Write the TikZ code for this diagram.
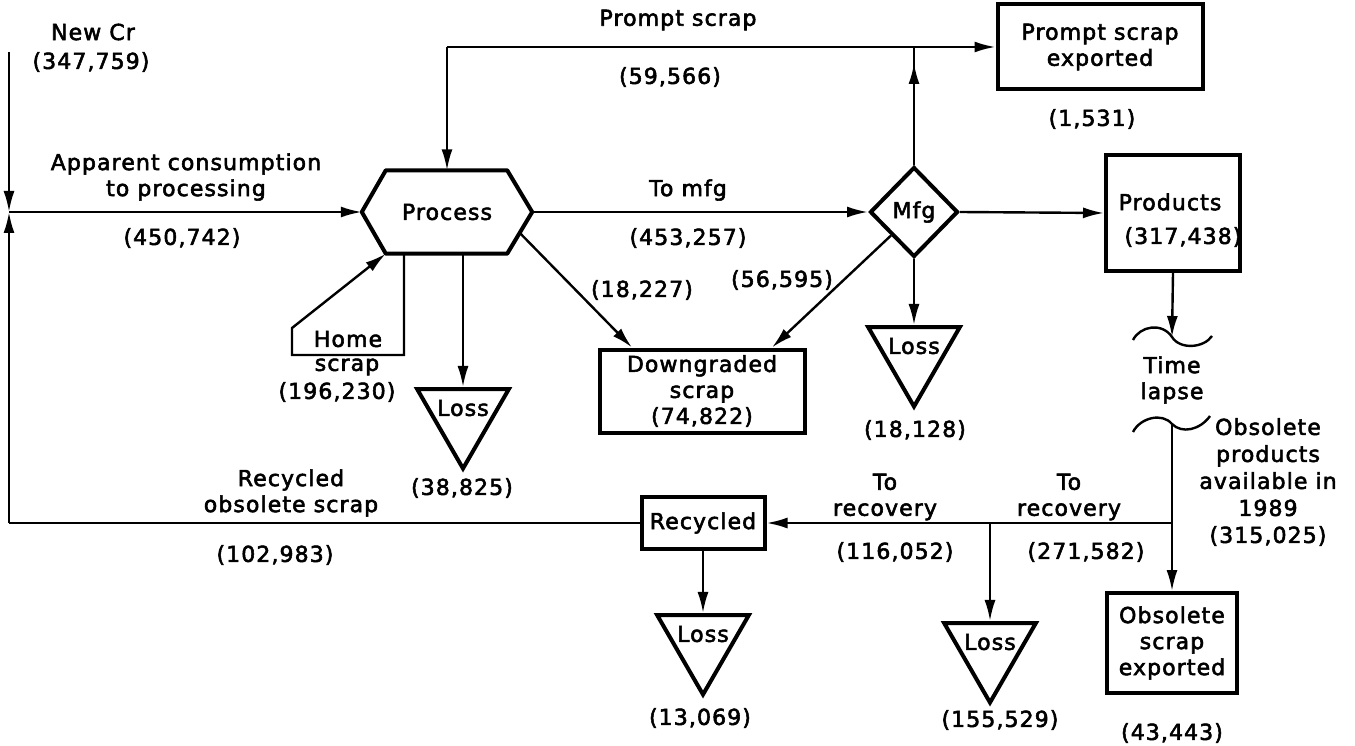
\documentclass[tikz,border=0pt]{standalone}
\usepackage{fontspec}
\setmainfont{DejaVu Sans}[LetterSpace=5,FakeBold=2.5]
\usetikzlibrary{shapes.geometric,arrows.meta,calc}
\begin{document}
\begin{tikzpicture}[x=1pt,y=-1pt,
  every node/.style={font=\fontsize{22}{26}\selectfont, inner sep=0pt, align=center},
  flow/.style={line width=2.4pt},
  arr/.style={flow,-{Latex[length=21pt,width=11pt]}},
  frame/.style={draw, rectangle, line width=4pt, inner sep=0pt},
  hexbox/.style={rectangle, minimum width=170pt, minimum height=83pt},
  mfgnode/.style={draw, diamond, line width=4pt, minimum width=88pt, minimum height=90pt},
  losstri/.style={draw, regular polygon, regular polygon sides=3, shape border rotate=180,
                  minimum size=106pt, line width=4pt},
  squiggle/.style={line width=2.4pt}
]
\useasboundingbox (0,0) rectangle (1355,746);

% ---------- main stations ----------
\node[hexbox] (process) at (447,212) {Process};
\draw[line width=4pt, line join=round]
  (process.west) -- ([xshift=24pt]process.north west) -- ([xshift=-25pt]process.north east)
  -- (process.east) -- ([xshift=-25pt]process.south east) -- ([xshift=24pt]process.south west) -- cycle;

\node[mfgnode] (mfg) at (914,212) {Mfg};
\node[frame, minimum width=205pt, minimum height=85pt] (pse) at (1100,47) {Prompt scrap\\exported};
\node[frame, minimum width=134pt, minimum height=116pt] (products) at (1173,213) {};
\node (prodtxt) at (1170,202) {Products};
\node (prodval) at (1183,237) {(317,438)};
\node[frame, minimum width=205pt, minimum height=83pt] (dg) at (702,391) {Downgraded\\scrap\\(74,822)};
\node[frame, minimum width=123pt, minimum height=52pt] (rec) at (703,523) {Recycled};
\node[frame, minimum width=130pt, minimum height=100pt] (ose) at (1172,643) {Obsolete\\scrap\\exported};

% ---------- loss triangles ----------
\node[losstri] (lossp) at (463,415.5) {};
\node (losspt) at (463,408) {Loss};
\node[losstri] (lossm) at (914,353.5) {};
\node (lossmt) at (914,346) {Loss};
\node[losstri] (lossr) at (703,641.5) {};
\node (lossrt) at (703,634) {Loss};
\node[losstri] (lossv) at (990,649.5) {};
\node (lossvt) at (990,642) {Loss};

% ---------- junctions and bends ----------
\coordinate (nc) at (9,52);
\coordinate (jl) at (9,212);
\coordinate (bl) at (9,523);
\coordinate (pl) at (447,47);
\coordinate (pj) at (914,47);
\coordinate (pa) at (914,63);
\coordinate (pb) at (463,253.5);
\coordinate (h1) at (404,253.5);
\coordinate (h2) at (404,355);
\coordinate (h3) at (292,355);
\coordinate (h4) at (292,328);
\coordinate (jr) at (1172,523);
\coordinate (jv) at (990,523);
\coordinate (ts1) at (1172,337);
\coordinate (ts2) at (1172,424);

% ---------- connectors ----------
\draw[arr] (nc) -- (jl);
\draw[arr] (bl) -- (jl);
\draw[arr] (jl) -- (process.west);
\draw[arr] (pl) -- (process.north);
\draw[flow] (pl) -- (pj);
\draw[flow] (mfg.north) -- (pj);
\draw[arr] (mfg.north) -- (pa);
\draw[arr] (pj) -- (pse.west);
\draw[arr] (process.east) -- (mfg.west);
\draw[arr] (mfg.east) -- (products.west);
\draw[arr] (products.south) -- (ts1);
\draw[arr] (ts2) -- (ose.north);
\draw[arr] (jr) -- (rec.east);
\draw[arr] (jv) -- (lossv.north);
\draw[arr] (rec.south) -- (lossr.north);
\draw[flow] (rec.west) -- (bl);
\draw[arr] (pb) -- (lossp.north);
\draw[arr] (h1) -- (h2) -- (h3) -- (h4) -- ([xshift=24pt]process.south west);
\draw[arr] ($(process.east)!0.5!([xshift=-25pt]process.south east)$) -- ([xshift=-70pt]dg.north);
\draw[arr] (mfg.south west) -- ([xshift=70pt]dg.north);
\draw[arr] (mfg.south) -- (lossm.north);

% ---------- time lapse marks ----------
\draw[squiggle] (1133,340) .. controls (1140,326) and (1162,322) .. (ts1)
  .. controls (1180,350) and (1204,348) .. (1212,336);
\draw[squiggle] (1133,432) .. controls (1140,418) and (1162,412) .. (ts2)
  .. controls (1182,434) and (1200,430) .. (1210,416);

% ---------- labels ----------
\node (lnew) at (93,32) {New Cr};
\node (lnewv) at (91,62) {(347,759)};
\node (lapp) at (186,177) {Apparent consumption\\to processing};
\node (lappv) at (182,238) {(450,742)};
\node (lps) at (678,20) {Prompt scrap};
\node (lpsv) at (670,77) {(59,566)};
\node (lpsev) at (1092,119) {(1,531)};
\node (lmfg) at (688,190) {To mfg};
\node (lmfgv) at (688,238) {(453,257)};
\node (ldg1) at (642,290) {(18,227)};
\node (ldg2) at (782,280) {(56,595)};
\node (lhome) at (348,339) {Home};
\node (lhome2) at (347,367) {scrap};
\node (lhomev) at (337,392) {(196,230)};
\node (llp) at (462,488) {(38,825)};
\node (llm) at (915,430) {(18,128)};
\node (ltime) at (1172,380) {Time\\lapse};
\node[font=\fontsize{22}{27}\selectfont] (lobs) at (1268,482) {Obsolete\\products\\available in\\1989\\(315,025)};
\node (lrec) at (291,493) {Recycled\\obsolete scrap};
\node (lrecv) at (275,555) {(102,983)};
\node (ltr1) at (885,497) {To\\recovery};
\node (ltr1v) at (895,552) {(116,052)};
\node (ltr2) at (1069,497) {To\\recovery};
\node (ltr2v) at (1086,552) {(271,582)};
\node (llr) at (700,718) {(13,069)};
\node (llv) at (1000,720) {(155,529)};
\node (lose) at (1172,733) {(43,443)};
\end{tikzpicture}
\end{document}
